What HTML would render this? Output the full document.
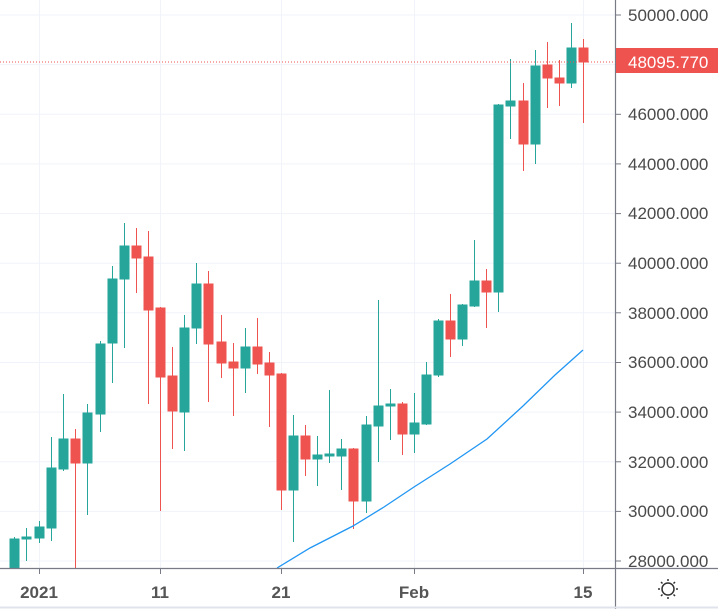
<!DOCTYPE html>
<html><head><meta charset="utf-8"><style>
html,body{margin:0;padding:0;background:#fff;}
svg{display:block;}
text{font-family:"Liberation Sans",sans-serif;}
</style></head><body>
<svg width="718" height="609" viewBox="0 0 718 609" xmlns="http://www.w3.org/2000/svg">
<defs><clipPath id="c"><rect x="0" y="0" width="615" height="568"/></clipPath></defs>
<rect width="718" height="609" fill="#fff"/>
<g stroke="#f0f3fa" stroke-width="1">
<line x1="0" x2="615" y1="15" y2="15"/><line x1="0" x2="615" y1="64.6" y2="64.6"/>
<line x1="0" x2="615" y1="114.3" y2="114.3"/><line x1="0" x2="615" y1="163.9" y2="163.9"/>
<line x1="0" x2="615" y1="213.6" y2="213.6"/><line x1="0" x2="615" y1="263.2" y2="263.2"/>
<line x1="0" x2="615" y1="312.8" y2="312.8"/><line x1="0" x2="615" y1="362.5" y2="362.5"/>
<line x1="0" x2="615" y1="412.1" y2="412.1"/><line x1="0" x2="615" y1="461.8" y2="461.8"/>
<line x1="0" x2="615" y1="511.4" y2="511.4"/><line x1="0" x2="615" y1="561" y2="561"/>
<line x1="39.5" x2="39.5" y1="0" y2="568"/><line x1="160.5" x2="160.5" y1="0" y2="568"/>
<line x1="281.5" x2="281.5" y1="0" y2="568"/><line x1="414.5" x2="414.5" y1="0" y2="568"/>
<line x1="583.5" x2="583.5" y1="0" y2="568"/>
</g>
<g clip-path="url(#c)" stroke-width="1">
<g stroke="#26a69a" fill="#26a69a">
<line x1="14.5" x2="14.5" y1="537" y2="568"/><rect x="10" y="539" width="9" height="29"/>
<line x1="26.5" x2="26.5" y1="528" y2="561"/><rect x="22" y="537" width="9" height="2"/>
<line x1="39.5" x2="39.5" y1="521" y2="543"/><rect x="35" y="527" width="9" height="11"/>
<line x1="51.5" x2="51.5" y1="437" y2="541"/><rect x="47" y="468" width="9" height="60"/>
<line x1="63.5" x2="63.5" y1="394" y2="471"/><rect x="59" y="439" width="9" height="30"/>
<line x1="87.5" x2="87.5" y1="404" y2="515"/><rect x="83" y="413" width="9" height="50"/>
<line x1="100.5" x2="100.5" y1="341" y2="432"/><rect x="96" y="344" width="9" height="70"/>
<line x1="112.5" x2="112.5" y1="266" y2="383"/><rect x="108" y="279" width="9" height="64"/>
<line x1="124.5" x2="124.5" y1="223" y2="348"/><rect x="120" y="246" width="9" height="33"/>
<line x1="184.5" x2="184.5" y1="315" y2="451"/><rect x="180" y="328" width="9" height="84"/>
<line x1="196.5" x2="196.5" y1="263" y2="344"/><rect x="192" y="284" width="9" height="44"/>
<line x1="245.5" x2="245.5" y1="328" y2="393"/><rect x="241" y="347" width="9" height="21"/>
<line x1="293.5" x2="293.5" y1="415" y2="542"/><rect x="289" y="436" width="9" height="54"/>
<line x1="317.5" x2="317.5" y1="436" y2="486"/><rect x="313" y="455" width="9" height="4"/>
<line x1="329.5" x2="329.5" y1="390" y2="463"/><rect x="325" y="454" width="9" height="2"/>
<line x1="341.5" x2="341.5" y1="439" y2="490"/><rect x="337" y="449" width="9" height="7"/>
<line x1="366.5" x2="366.5" y1="416" y2="513"/><rect x="362" y="425" width="9" height="76"/>
<line x1="378.5" x2="378.5" y1="300" y2="462"/><rect x="374" y="406" width="9" height="20"/>
<line x1="390.5" x2="390.5" y1="389" y2="440"/><rect x="386" y="404" width="9" height="2"/>
<line x1="414.5" x2="414.5" y1="393" y2="453"/><rect x="410" y="423" width="9" height="11"/>
<line x1="426.5" x2="426.5" y1="362" y2="425"/><rect x="422" y="375" width="9" height="49"/>
<line x1="438.5" x2="438.5" y1="319" y2="377"/><rect x="434" y="321" width="9" height="54"/>
<line x1="462.5" x2="462.5" y1="304" y2="346"/><rect x="458" y="305" width="9" height="34"/>
<line x1="474.5" x2="474.5" y1="240" y2="307"/><rect x="470" y="281" width="9" height="25"/>
<line x1="498.5" x2="498.5" y1="104" y2="312"/><rect x="494" y="105" width="9" height="187"/>
<line x1="510.5" x2="510.5" y1="59" y2="139"/><rect x="506" y="101" width="9" height="5"/>
<line x1="535.5" x2="535.5" y1="50" y2="164"/><rect x="531" y="66" width="9" height="78"/>
<line x1="571.5" x2="571.5" y1="23" y2="88"/><rect x="567" y="48" width="9" height="35"/>
</g>
<g stroke="#ef5350" fill="#ef5350">
<line x1="75.5" x2="75.5" y1="429" y2="570"/><rect x="71" y="439" width="9" height="24"/>
<line x1="136.5" x2="136.5" y1="228" y2="293"/><rect x="132" y="246" width="9" height="12"/>
<line x1="148.5" x2="148.5" y1="231" y2="404"/><rect x="144" y="257" width="9" height="53"/>
<line x1="160.5" x2="160.5" y1="307" y2="511"/><rect x="156" y="308" width="9" height="69"/>
<line x1="172.5" x2="172.5" y1="347" y2="449"/><rect x="168" y="376" width="9" height="35"/>
<line x1="208.5" x2="208.5" y1="271" y2="402"/><rect x="204" y="284" width="9" height="60"/>
<line x1="221.5" x2="221.5" y1="315" y2="378"/><rect x="217" y="342" width="9" height="21"/>
<line x1="233.5" x2="233.5" y1="343" y2="416"/><rect x="229" y="362" width="9" height="6"/>
<line x1="257.5" x2="257.5" y1="318" y2="374"/><rect x="253" y="347" width="9" height="17"/>
<line x1="269.5" x2="269.5" y1="352" y2="427"/><rect x="265" y="363" width="9" height="12"/>
<line x1="281.5" x2="281.5" y1="373" y2="510"/><rect x="277" y="374" width="9" height="116"/>
<line x1="305.5" x2="305.5" y1="425" y2="476"/><rect x="301" y="436" width="9" height="23"/>
<line x1="353.5" x2="353.5" y1="448" y2="529"/><rect x="349" y="449" width="9" height="52"/>
<line x1="402.5" x2="402.5" y1="402" y2="455"/><rect x="398" y="404" width="9" height="30"/>
<line x1="450.5" x2="450.5" y1="294" y2="357"/><rect x="446" y="321" width="9" height="18"/>
<line x1="486.5" x2="486.5" y1="269" y2="328"/><rect x="482" y="281" width="9" height="11"/>
<line x1="523.5" x2="523.5" y1="83" y2="171"/><rect x="519" y="101" width="9" height="43"/>
<line x1="547.5" x2="547.5" y1="42" y2="108"/><rect x="543" y="65" width="9" height="13"/>
<line x1="559.5" x2="559.5" y1="60" y2="106"/><rect x="555" y="78" width="9" height="5"/>
<line x1="583.5" x2="583.5" y1="39" y2="123"/><rect x="579" y="48" width="9" height="14"/>
</g>
</g>
<polyline clip-path="url(#c)" fill="none" stroke="#2196f3" stroke-width="1.3" points="277,568 310,548 353,526 384,507 414,487 450,464 487,439 523,406 555,375 583,350"/>
<line x1="0" x2="615" y1="62" y2="62" stroke="#ef5350" stroke-width="1" stroke-dasharray="1,2"/>
<line x1="615.5" x2="615.5" y1="0" y2="609" stroke="#787b86" stroke-width="1.2"/>
<line x1="0" x2="718" y1="568.5" y2="568.5" stroke="#787b86" stroke-width="1.2"/>
<line x1="0" x2="718" y1="607.5" y2="607.5" stroke="#e0e3eb" stroke-width="2"/>
<g stroke="#787b86" stroke-width="1">
<line x1="615" x2="621" y1="15" y2="15"/><line x1="615" x2="621" y1="114.3" y2="114.3"/>
<line x1="615" x2="621" y1="163.9" y2="163.9"/><line x1="615" x2="621" y1="213.6" y2="213.6"/>
<line x1="615" x2="621" y1="263.2" y2="263.2"/><line x1="615" x2="621" y1="312.8" y2="312.8"/>
<line x1="615" x2="621" y1="362.5" y2="362.5"/><line x1="615" x2="621" y1="412.1" y2="412.1"/>
<line x1="615" x2="621" y1="461.8" y2="461.8"/><line x1="615" x2="621" y1="511.4" y2="511.4"/>
<line x1="615" x2="621" y1="561" y2="561"/>
<line x1="39.5" x2="39.5" y1="568" y2="574"/><line x1="160.5" x2="160.5" y1="568" y2="574"/>
<line x1="281.5" x2="281.5" y1="568" y2="574"/><line x1="414.5" x2="414.5" y1="568" y2="574"/>
<line x1="583.5" x2="583.5" y1="568" y2="574"/>
</g>
<g font-size="17" fill="#4a4a4a">
<text x="628" y="21">50000.000</text>
<text x="628" y="120">46000.000</text>
<text x="628" y="170">44000.000</text>
<text x="628" y="219">42000.000</text>
<text x="628" y="269">40000.000</text>
<text x="628" y="319">38000.000</text>
<text x="628" y="368">36000.000</text>
<text x="628" y="418">34000.000</text>
<text x="628" y="468">32000.000</text>
<text x="628" y="517">30000.000</text>
<text x="628" y="567">28000.000</text>
</g>
<rect x="616" y="48" width="102" height="25" fill="#ef5350"/>
<text x="628" y="68" font-size="17" fill="#fff">48095.770</text>
<g font-size="17" fill="#555" font-weight="bold" text-anchor="middle">
<text x="39" y="598">2021</text>
<text x="160" y="598">11</text>
<text x="281" y="598">21</text>
<text x="414" y="598">Feb</text>
<text x="583" y="598">15</text>
</g>
<g stroke="#333" stroke-width="1.5" fill="none">
<circle cx="668" cy="589" r="6"/>
<line x1="668" y1="579" x2="668" y2="581"/><line x1="668" y1="597" x2="668" y2="599"/>
<line x1="658" y1="589" x2="660" y2="589"/><line x1="676" y1="589" x2="678" y2="589"/>
<line x1="661" y1="582" x2="662.5" y2="583.5"/><line x1="675" y1="582" x2="673.5" y2="583.5"/>
<line x1="661" y1="596" x2="662.5" y2="594.5"/><line x1="675" y1="596" x2="673.5" y2="594.5"/>
</g>
</svg>
</body></html>
